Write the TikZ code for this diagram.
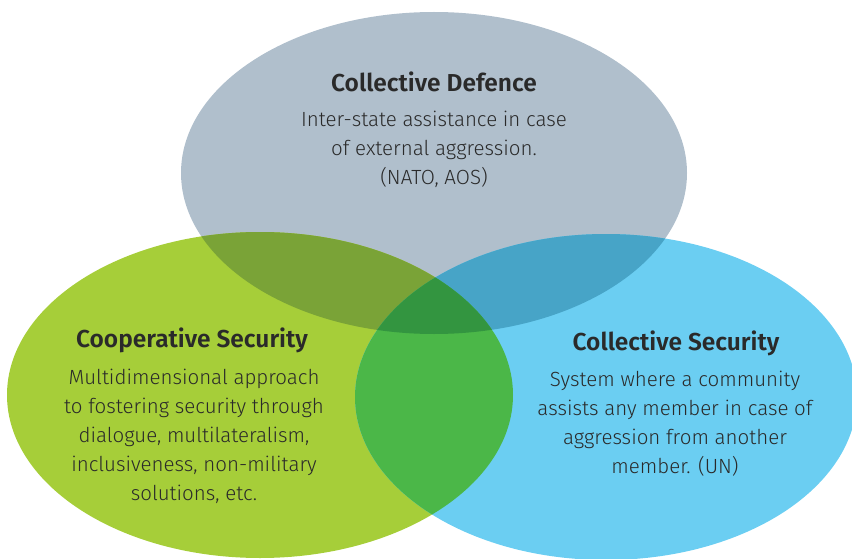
\documentclass[tikz,border=0pt]{standalone}
\usepackage{fontspec}
\setmainfont{Fira Sans Light}[BoldFont={Fira Sans SemiBold}]
\usepackage{tikz}

\definecolor{defcol}{HTML}{B0BFCC}
\definecolor{coopcol}{HTML}{A6CE39}
\definecolor{collcol}{HTML}{6BCEF2}
\definecolor{defcoop}{HTML}{7AA337}
\definecolor{defcoll}{HTML}{47A4C7}
\definecolor{coopcoll}{HTML}{4BB748}
\definecolor{allcol}{HTML}{339540}
\definecolor{textcol}{HTML}{2A2A2A}

\newcommand{\defpath}{(434,173) ellipse [x radius=253, y radius=161]}
\newcommand{\cooppath}{(260,395) ellipse [x radius=253, y radius=163]}
\newcommand{\collpath}{(606,397) ellipse [x radius=251, y radius=163]}

\begin{document}
\begin{tikzpicture} [x=1pt, y=-1pt,
            title/.style = {font=\bfseries\fontsize{24.5}{28}\selectfont, text=textcol},
            body/.style = {font=\fontsize{20.5}{29}\selectfont, text=textcol, align=center}]

            \useasboundingbox (0,0) rectangle (852,559);

            % Circles
            \fill [defcol] \defpath;
            \fill [coopcol] \cooppath;
            \fill [collcol] \collpath;

            % Overlaps
            \begin{scope}
                \clip \defpath;
                \fill [defcoop] \cooppath;
                \fill [defcoll] \collpath;
            \end{scope}
            \begin{scope}
                \clip \cooppath;
                \fill [coopcoll] \collpath;
                \clip \collpath;
                \fill [allcol] \defpath;
            \end{scope}

            % Collective Defence
            \node (deftitle) [title] at (434,82) {Collective Defence};
            \node (deftext) [body, anchor=north] at (434,108)
                {Inter-state assistance in case\\of external aggression.\\(NATO, AOS)};

            % Cooperative Security
            \node (cooptitle) [title] at (192,340) {Cooperative Security};
            \node (cooptext) [body, anchor=north] at (194,366)
                {Multidimensional approach\\to fostering security through\\dialogue, multilateralism,\\inclusiveness, non-military\\solutions, etc.};

            % Collective Security
            \node (colltitle) [title] at (676,343) {Collective Security};
            \node (colltext) [body, anchor=north] at (675,368)
                {System where a community\\assists any member in case of\\aggression from another\\member. (UN)};
        \end{tikzpicture}
\end{document}
